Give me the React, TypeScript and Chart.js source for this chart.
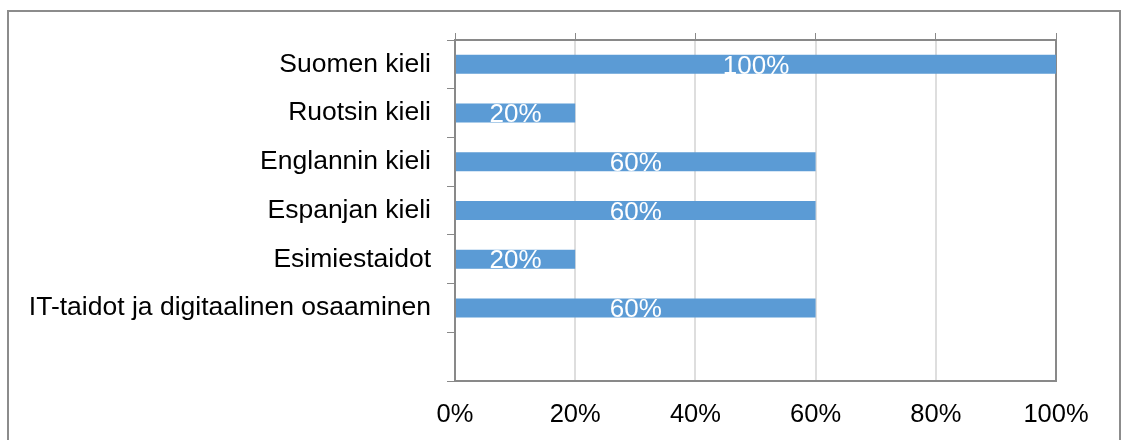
import React, { useEffect, useRef } from "react";
import { Chart, registerables } from "chart.js";

Chart.register(...registerables);

const categories = [
  "Suomen kieli",
  "Ruotsin kieli",
  "Englannin kieli",
  "Espanjan kieli",
  "Esimiestaidot",
  "IT-taidot ja digitaalinen osaaminen",
  "",
];
const values: (number | null)[] = [100, 20, 60, 60, 20, 60, null];
const xTicks = [0, 20, 40, 60, 80, 100];

const FONT = "'Liberation Sans', Arial, sans-serif";
const AXIS = "#898989";
const GRID = "#dedede";
const BAR = "#5b9bd5";

const dataLabels = {
  id: "dataLabels",
  afterDatasetsDraw(chart: any) {
    const ctx = chart.ctx;
    const meta = chart.getDatasetMeta(0);
    ctx.save();
    ctx.fillStyle = "#ffffff";
    ctx.font = `26px ${FONT}`;
    ctx.textAlign = "center";
    ctx.textBaseline = "middle";
    meta.data.forEach((bar: any, i: number) => {
      const v = values[i];
      if (v == null) return;
      ctx.fillText(`${v}%`, (bar.x + bar.base) / 2, bar.y + 2);
    });
    ctx.restore();
  },
};

export default function App() {
  const ref = useRef<HTMLCanvasElement>(null);
  useEffect(() => {
    if (!ref.current) return;
    const chart = new Chart(ref.current, {
      type: "bar",
      data: {
        labels: categories,
        datasets: [
          {
            data: values,
            backgroundColor: BAR,
            borderWidth: 0,
            categoryPercentage: 1,
            barPercentage: 0.39,
            xAxisID: "x",
            yAxisID: "y",
          },
        ],
      },
      options: {
        indexAxis: "y",
        animation: false,
        responsive: false,
        maintainAspectRatio: false,
        layout: { padding: 0 },
        plugins: { legend: { display: false }, tooltip: { enabled: false } },
        scales: {
          x: {
            position: "bottom",
            min: 0,
            max: 100,
            afterBuildTicks: (s: any) => {
              s.ticks = xTicks.map((v) => ({ value: v }));
            },
            ticks: {
              callback: (v: any) => `${v}%`,
              color: "#000000",
              font: { family: FONT, size: 25.5 },
              padding: 19,
              maxRotation: 0,
            },
            grid: { color: GRID, lineWidth: 2, drawTicks: false },
            border: { display: true, color: AXIS, width: 2 },
            afterFit: (s: any) => {
              s.height = 59;
            },
          },
          x2: {
            position: "top",
            min: 0,
            max: 100,
            afterBuildTicks: (s: any) => {
              s.ticks = xTicks.map((v) => ({ value: v }));
            },
            ticks: { display: false },
            grid: {
              drawOnChartArea: false,
              drawTicks: true,
              tickLength: 7,
              color: AXIS,
              lineWidth: 1,
            },
            border: { display: true, color: AXIS, width: 2 },
            afterFit: (s: any) => {
              s.height = 40;
            },
          },
          y: {
            type: "category",
            position: "left",
            offset: true,
            ticks: {
              color: "#000000",
              font: { family: FONT, size: 26.5 },
              padding: 16,
            },
            grid: {
              offset: true,
              drawOnChartArea: false,
              tickLength: 8,
              color: AXIS,
              lineWidth: 1,
            },
            border: { display: true, color: AXIS, width: 2 },
            afterFit: (s: any) => {
              s.width = 455;
            },
          },
          y2: {
            type: "category",
            position: "right",
            offset: true,
            ticks: { display: false },
            grid: { display: false },
            border: { display: true, color: AXIS, width: 2 },
            afterFit: (s: any) => {
              s.width = 65;
            },
          },
        },
      } as any,
      plugins: [dataLabels],
    });
    return () => chart.destroy();
  }, []);

  return (
    <div style={{ position: "fixed", left: 0, top: 0, width: 1121, height: 440, background: "#fff" }}>
      <canvas ref={ref} width={1121} height={440} style={{ display: "block" }} />
      <div
        style={{
          position: "absolute",
          left: 7,
          top: 10,
          width: 1110,
          height: 440,
          borderLeft: "2px solid #8c8c8c",
          borderTop: "2px solid #8c8c8c",
          borderRight: "2px solid #8c8c8c",
          pointerEvents: "none",
        }}
      />
    </div>
  );
}
